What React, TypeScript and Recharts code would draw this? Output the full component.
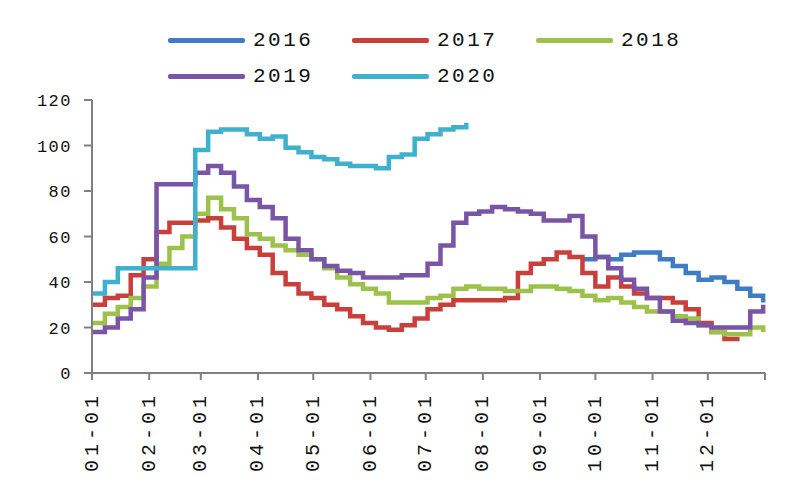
import { CartesianGrid, Line, LineChart, XAxis, YAxis } from "recharts";

// day of year for each weekly reading
const days = [
  0, 7, 14, 21, 28, 35, 42, 49, 56, 63, 70, 77, 84, 91, 98, 105, 112, 119, 126, 133,
  140, 147, 154, 161, 168, 175, 182, 189, 196, 203, 210, 217, 224, 231, 238, 245, 252,
  259, 266, 273, 280, 287, 294, 301, 308, 315, 322, 329, 336, 343, 350, 357, 364
];

const s2016 = [
  null, null, null, null, null, null, null, null, null, null,
  null, null, null, null, null, null, null, null, null, null,
  null, null, null, null, null, null, null, null, null, null,
  null, null, null, null, null, null, null, null,
  50, 51, 50, 52, 53, 53, 50, 47, 44, 41, 42, 40, 37, 34, 31
];

const s2017 = [
  30, 33, 34, 43, 50, 62, 66, 66, 67, 68,
  64, 59, 55, 52, 44, 39, 35, 33, 30, 28,
  25, 22, 20, 19, 21, 24, 28, 30, 32, 32,
  32, 32, 33, 44, 48, 50, 53, 51, 44, 38,
  42, 38, 35, 33, 33, 31, 28, 22, 18, 15,
  14, null, null
];

const s2018 = [
  22, 26, 29, 33, 38, 48, 55, 60, 70, 77,
  72, 68, 61, 59, 56, 54, 52, 50, 46, 42,
  39, 37, 35, 31, 31, 31, 33, 34, 37, 38,
  37, 37, 36, 36, 38, 38, 37, 36, 34, 32,
  33, 31, 29, 27, 27, 25, 24, 21, 18, 17,
  17, 20, 18
];

const s2019 = [
  18, 20, 24, 28, 42, 83, 83, 83, 88, 91,
  88, 82, 76, 73, 68, 59, 54, 50, 47, 45,
  44, 42, 42, 42, 43, 43, 48, 56, 66, 70,
  71, 73, 72, 71, 70, 67, 67, 69, 60, 51,
  46, 41, 37, 33, 27, 23, 22, 21, 20, 20,
  20, 27, 30
];

const s2020 = [
  35, 40, 46, 46, 46, 46, 46, 46, 98, 106,
  107, 107, 105, 103, 104, 99, 97, 95, 94, 92,
  91, 91, 90, 95, 96, 103, 105, 107, 108, 110,
  null, null, null, null, null, null, null, null, null, null,
  null, null, null, null, null, null, null, null, null, null,
  null, null, null
];

const monthTicks = [0, 31, 59, 90, 120, 151, 181, 212, 243, 273, 304, 334, 365];
const monthLabels = ["01-01", "02-01", "03-01", "04-01", "05-01", "06-01", "07-01", "08-01", "09-01", "10-01", "11-01", "12-01", ""];
const yTicks = [0, 20, 40, 60, 80, 100, 120];

const series = [
  { key: "2016", color: "#3f7cc4", values: s2016 },
  { key: "2017", color: "#c83f3c", values: s2017 },
  { key: "2018", color: "#9cc24c", values: s2018 },
  { key: "2019", color: "#7a55a6", values: s2019 },
  { key: "2020", color: "#3fb1cc", values: s2020 }
];

const data = days.map((day, i) => {
  const row: Record<string, number | null> = { day };
  series.forEach((s) => {
    row[s.key] = s.values[i];
  });
  return row;
});

const FONT = "'Liberation Mono', 'DejaVu Sans Mono', monospace";

function MonthTick({ x, y, payload }: any) {
  const idx = monthTicks.indexOf(payload.value);
  const label = monthLabels[idx] ?? "";
  if (!label) return null;
  return (
    <text
      x={x}
      y={y}
      transform={`rotate(-90 ${x} ${y})`}
      textAnchor="end"
      dominantBaseline="central"
      fontFamily={FONT}
      fontSize={20}
      letterSpacing={4}
      fill="#111"
    >
      {label}
    </text>
  );
}

const legendPos = [
  { key: "2016", left: 168, top: 40 },
  { key: "2017", left: 352, top: 40 },
  { key: "2018", left: 536, top: 40 },
  { key: "2019", left: 168, top: 76 },
  { key: "2020", left: 352, top: 76 }
];

function ChartLegend() {
  return (
    <>
      {legendPos.map((p) => {
        const s = series.find((d) => d.key === p.key)!;
        return (
          <div key={p.key} style={{ position: "absolute", left: p.left, top: p.top - 14, height: 28, display: "flex", alignItems: "center" }}>
            <div style={{ width: 77, height: 5, background: s.color, borderRadius: 2 }} />
            <span style={{ marginLeft: 8, fontFamily: FONT, fontSize: 21, letterSpacing: 2.5, color: "#111" }}>{s.key}</span>
          </div>
        );
      })}
    </>
  );
}

export default function App() {
  return (
    <div style={{ position: "absolute", left: 0, top: 0, width: 800, height: 500, background: "#fff" }}>
      <ChartLegend />
      <LineChart width={800} height={500} data={data} margin={{ top: 100, right: 35, left: 0, bottom: 27 }}>
        <CartesianGrid horizontal={false} vertical={false} />
        <XAxis
          dataKey="day"
          type="number"
          domain={[0, 365]}
          ticks={monthTicks}
          interval={0}
          height={100}
          tickSize={7}
          tickMargin={12}
          tick={<MonthTick />}
          axisLine={{ stroke: "#808080", strokeWidth: 2 }}
          tickLine={{ stroke: "#808080", strokeWidth: 2 }}
        />
        <YAxis
          domain={[0, 120]}
          ticks={yTicks}
          width={92}
          tickSize={8}
          tickMargin={12}
          tick={{ fill: "#111", fontSize: 17, fontFamily: FONT, letterSpacing: 1.5 }}
          axisLine={{ stroke: "#808080", strokeWidth: 2 }}
          tickLine={{ stroke: "#808080", strokeWidth: 2 }}
        />
        {series.map((s) => (
          <Line
            key={s.key}
            type="stepAfter"
            dataKey={s.key}
            stroke={s.color}
            strokeWidth={4.5}
            dot={false}
            activeDot={false}
            connectNulls={false}
            isAnimationActive={false}
          />
        ))}
      </LineChart>
    </div>
  );
}
